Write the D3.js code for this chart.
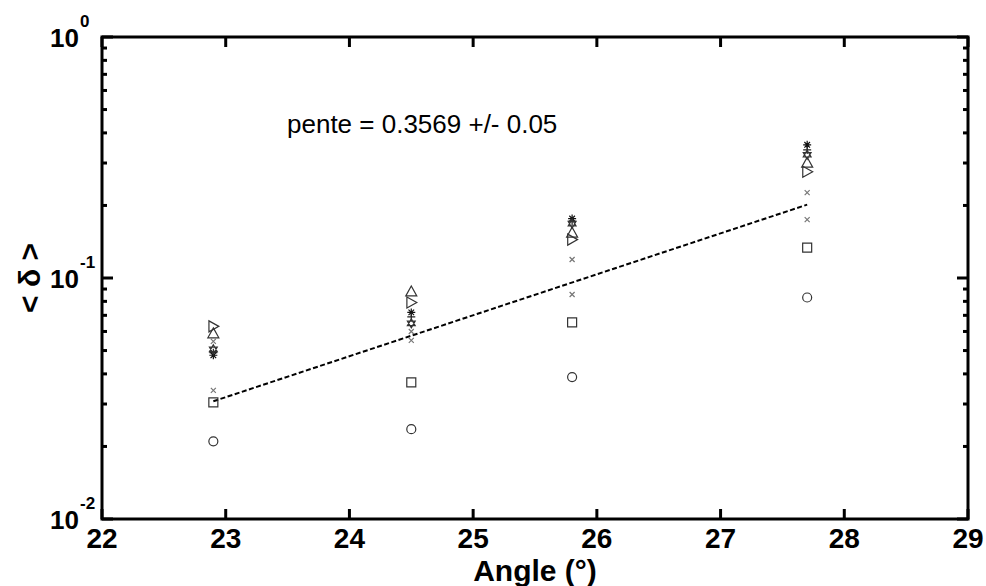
<!DOCTYPE html>
<html>
<head>
<meta charset="utf-8">
<script src="https://cdn.jsdelivr.net/npm/d3@7"></script>
<style>
  body { margin: 0; background: #fff; }
  svg { display: block; font-family: "Liberation Sans", Arial, sans-serif; }
</style>
</head>
<body>
<div id="chart"></div>
<script>
const angles = [22.9, 24.5, 25.8, 27.7];

// one list per marker type
const circleVals   = [0.0210, 0.0236, 0.0388, 0.0830];
const squareVals   = [0.0305, 0.0369, 0.0654, 0.1337];
const crossLowVals = [0.0342, 0.0551, 0.0854, 0.1747];
const crossHiVals  = [0.0546, 0.0600, 0.1193, 0.2260];
const starVals     = [0.0478, 0.0720, 0.1764, 0.3570];
const plusVals     = [0.0490, 0.0690, 0.1720, 0.3400];
const hexVals      = [0.0506, 0.0648, 0.1680, 0.3246];
const triUpVals    = [0.0589, 0.0879, 0.1540, 0.3007];
const triRightVals = [0.0630, 0.0792, 0.1443, 0.2760];

const fitX = [22.9, 27.7];
const fitY = [0.0308, 0.2015];

const xTicks = [22, 23, 24, 25, 26, 27, 28, 29];
const yMajor = [0.01, 0.1, 1];
const yExpLabels = ["-2", "-1", "0"];

const width = 986, height = 586;
const margin = { top: 37, right: 18, bottom: 67, left: 102 };

const svg = d3.select("#chart").append("svg")
  .attr("width", width).attr("height", height);

const x = d3.scaleLinear().domain([22, 29]).range([margin.left, width - margin.right]);
const y = d3.scaleLog().domain([0.01, 1]).range([height - margin.bottom, margin.top]);

// marker shapes
const shapes = {
  circle: r => `M${r},0A${r},${r} 0 1,1 ${-r},0A${r},${r} 0 1,1 ${r},0Z`,
  square: r => `M${-r},${-r}H${r}V${r}H${-r}Z`,
  cross: r => `M${-r},${-r}L${r},${r}M${-r},${r}L${r},${-r}`,
  plus: r => `M${-r},0H${r}M0,${-r}V${r}`,
  star: r => {
    const d = r * 0.7;
    return `M${-r},0H${r}M0,${-r}V${r}M${-d},${-d}L${d},${d}M${-d},${d}L${d},${-d}`;
  },
  hex: r => {
    const h = r * 0.87;
    return `M0,${-r}L${h},${r / 2}L${-h},${r / 2}ZM0,${r}L${h},${-r / 2}L${-h},${-r / 2}Z`;
  },
  triUp: r => `M0,${-r}L${r},${r * 0.8}L${-r},${r * 0.8}Z`,
  triRight: r => `M${r},0L${-r * 0.8},${-r}L${-r * 0.8},${r}Z`
};

const series = [
  { vals: circleVals, shape: "circle", r: 4.5, color: "#333" },
  { vals: squareVals, shape: "square", r: 4.5, color: "#333" },
  { vals: crossLowVals, shape: "cross", r: 2.5, color: "#777" },
  { vals: crossHiVals, shape: "cross", r: 2.5, color: "#777" },
  { vals: starVals, shape: "star", r: 4, color: "#111" },
  { vals: plusVals, shape: "plus", r: 4, color: "#222" },
  { vals: hexVals, shape: "hex", r: 4.5, color: "#333" },
  { vals: triUpVals, shape: "triUp", r: 5.5, color: "#333" },
  { vals: triRightVals, shape: "triRight", r: 5.5, color: "#333" }
];

// fit line
svg.append("line")
  .attr("x1", x(fitX[0])).attr("y1", y(fitY[0]))
  .attr("x2", x(fitX[1])).attr("y2", y(fitY[1]))
  .attr("stroke", "#000").attr("stroke-width", 2)
  .attr("stroke-dasharray", "5,2.5");

// markers
series.forEach(s => {
  svg.append("g").selectAll("path")
    .data(s.vals.map((v, i) => ({ a: angles[i], v })))
    .join("path")
    .attr("transform", d => `translate(${x(d.a)},${y(d.v)})`)
    .attr("d", shapes[s.shape](s.r))
    .attr("fill", "none")
    .attr("stroke", s.color)
    .attr("stroke-width", 1.2);
});

// frame
const x0 = x(22), x1 = x(29), y0 = y(0.01), y1 = y(1);
svg.append("rect")
  .attr("x", x0).attr("y", y1)
  .attr("width", x1 - x0).attr("height", y0 - y1)
  .attr("fill", "none").attr("stroke", "#000").attr("stroke-width", 3);

// x ticks (bottom and top, inward)
const tickG = svg.append("g").attr("stroke", "#000").attr("stroke-width", 3);
xTicks.forEach(t => {
  tickG.append("line").attr("x1", x(t)).attr("x2", x(t)).attr("y1", y0).attr("y2", y0 - 10);
  tickG.append("line").attr("x1", x(t)).attr("x2", x(t)).attr("y1", y1).attr("y2", y1 + 10);
});

// y ticks: majors and log minors on both sides
const minor = [];
[0.01, 0.1].forEach(dec => { for (let k = 2; k <= 9; k++) minor.push(dec * k); });
yMajor.forEach(t => {
  tickG.append("line").attr("x1", x0).attr("x2", x0 + 11).attr("y1", y(t)).attr("y2", y(t));
  tickG.append("line").attr("x1", x1).attr("x2", x1 - 11).attr("y1", y(t)).attr("y2", y(t));
});
minor.forEach(t => {
  tickG.append("line").attr("x1", x0).attr("x2", x0 + 5).attr("y1", y(t)).attr("y2", y(t));
  tickG.append("line").attr("x1", x1).attr("x2", x1 - 5).attr("y1", y(t)).attr("y2", y(t));
});

// x tick labels
svg.append("g").selectAll("text")
  .data(xTicks)
  .join("text")
  .attr("x", d => x(d)).attr("y", y0 + 29)
  .attr("text-anchor", "middle")
  .attr("font-size", 28).attr("font-weight", "bold")
  .text(d => d);

// y tick labels 10^n
yMajor.forEach((t, i) => {
  svg.append("text")
    .attr("x", 79).attr("y", y(t) + 10)
    .attr("text-anchor", "end")
    .attr("font-size", 26).attr("font-weight", "bold")
    .text("10");
  svg.append("text")
    .attr("x", 80).attr("y", y(t) - 10)
    .attr("font-size", 17).attr("font-weight", "bold")
    .text(yExpLabels[i]);
});

// axis titles
svg.append("text")
  .attr("x", (x0 + x1) / 2).attr("y", 581)
  .attr("text-anchor", "middle")
  .attr("font-size", 30).attr("font-weight", "bold")
  .text("Angle (°)");

svg.append("text")
  .attr("transform", `translate(40,${y(0.1)}) rotate(-90)`)
  .attr("text-anchor", "middle")
  .attr("font-size", 30).attr("font-weight", "bold")
  .text("< δ >");

// annotation
svg.append("text")
  .attr("x", 287).attr("y", 133)
  .attr("font-size", 26)
  .text("pente = 0.3569 +/- 0.05");
</script>
</body>
</html>
